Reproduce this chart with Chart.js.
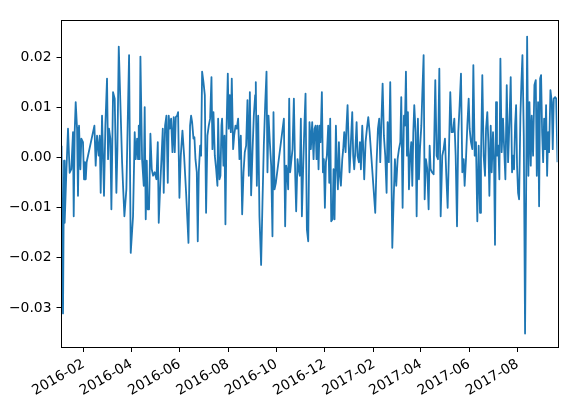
<!DOCTYPE html>
<html><head><meta charset="utf-8">
<script src="https://cdn.jsdelivr.net/npm/chart.js@4/dist/chart.umd.min.js"></script>
<style>html,body{margin:0;padding:0;background:#fff}</style>
</head><body>
<canvas id="c" width="574" height="404"></canvas>
<script>
// Day offsets (calendar days from startDate) of each trading day drawn
const startDate = '2016-01-04';
const tradingDays = [
  0,1.9,3.2,4.0,6.1,8.2,10.3,12.4,14.5,15.4,
  16.6,17.9,19.6,20.8,22.1,23.8,25.0,27.1,28.4,29.5,
  30.6,31.7,41.5,43.1,44.8,46.9,48.2,49.4,51.1,53.6,
  55.3,57.4,58.7,59.9,61.6,62.9,65.0,67.1,69.2,70.5,
  72.2,74.7,76.4,77.6,79.3,81.8,85.2,87.3,90.2,92.3,
  93.6,95.3,96.5,97.4,98.6,99.5,101.6,103.7,104.9,106.2,
  107.5,108.7,110.4,112.1,113.8,115.5,117.6,119.7,121.4,122.6,
  124.3,126.0,127.7,128.9,130.6,132.3,134.0,135.2,136.5,138.2,
  139.9,141.5,142.8,144.1,145.8,147.0,148.7,150.4,152.5,154.6,
  157.1,160.1,162.1,163.4,164.7,166.4,167.6,168.9,170.6,171.8,
  173.1,174.8,176.0,177.3,179.0,180.7,182.3,184.0,185.7,187.4,
  189.1,190.3,191.6,193.3,195.0,196.6,197.5,199.2,200.4,201.7,
  202.5,204.2,205.5,206.7,208.0,209.7,210.9,212.2,213.5,214.7,
  216.4,217.7,219.4,221.0,222.7,224.4,226.1,227.8,229.5,231.1,
  232.8,234.5,236.2,237.5,239.1,240.8,242.5,244.2,245.0,246.3,
  248.0,249.6,251.7,253.4,255.1,256.8,258.5,259.7,261.0,262.7,
  264.4,266.0,267.3,268.6,270.3,280.4,282.0,283.3,284.6,285.8,
  287.1,288.3,289.6,291.3,293.0,294.7,295.9,297.6,298.9,300.5,
  301.8,303.1,304.8,306.4,307.7,309.4,311.1,312.7,314.4,316.1,
  317.8,319.1,320.3,321.6,322.8,324.1,325.4,326.6,328.3,329.6,
  330.8,332.1,333.4,334.6,336.3,337.6,338.8,340.1,341.8,343.0,
  344.3,346.0,347.2,348.5,349.8,351.0,352.3,354.0,355.2,356.5,
  358.2,359.4,360.7,362.0,363.2,364.9,366.6,367.8,369.1,370.4,
  372.1,373.3,375.0,376.3,377.5,379.2,380.5,381.7,383.4,385.1,
  386.8,388.5,395.6,397.3,399.0,400.6,401.9,403.2,404.9,406.5,
  408.2,409.9,411.2,412.8,414.5,415.8,417.1,418.7,420.4,422.1,
  423.8,425.5,427.2,428.4,430.1,431.8,433.0,434.3,435.6,436.8,
  438.1,439.4,441.0,442.3,443.6,444.8,446.5,447.8,449.4,450.7,
  452.0,453.7,454.9,456.6,457.9,459.5,461.2,462.9,464.2,465.4,
  467.1,469.2,471.3,473.0,474.7,476.4,478.1,480.1,481.8,483.5,
  485.2,486.9,488.6,490.2,491.9,493.6,495.3,497.0,498.7,500.3,
  502.0,503.7,505.4,507.1,508.3,510.0,511.7,513.4,514.6,516.3,
  518.0,519.3,521.0,522.6,524.3,526.0,527.7,528.9,530.6,532.3,
  534.0,535.3,536.9,538.2,539.5,541.2,542.4,544.1,545.4,546.6,
  547.9,549.1,550.8,552.1,553.4,555.0,556.7,558.0,559.7,561.4,
  563.1,564.8,566.4,568.1,569.4,570.6,571.9,573.2,574.4,575.7,
  577.0,578.6,579.9,581.2,582.9,584.5,586.2,587.1,588.7,590.0,
  591.7,592.9,594.6,596.3,598.0,599.3,600.9,602.2,603.5,604.7,
  606.0,607.3,608.5,609.8,611.0,612.3,613.6,614.8,616.5,618.2,
  619.4,620.7,622.4,623.7,625.4
];
const dailyReturns = [
  0.0024,-0.0311,-0.0006,-0.0130,-0.0030,0.0058,-0.0030,-0.0023,0.0051,-0.0117,
  0.0051,0.0111,0.0058,-0.0076,0.0064,-0.0023,0.0038,0.0031,-0.0043,-0.0009,
  -0.0043,-0.0009,0.0064,-0.0016,0.0044,0.0004,0.0044,-0.0070,0.0084,-0.0076,
  0.0064,0.0158,-0.0003,0.0058,0.0038,-0.0103,0.0131,0.0118,-0.0070,0.0017,
  0.0222,0.0084,-0.0009,-0.0056,-0.0117,-0.0063,0.0205,-0.0190,-0.0117,0.0051,
  -0.0003,0.0038,-0.0003,0.0064,-0.0003,0.0202,-0.0003,-0.0056,0.0101,-0.0123,
  -0.0006,-0.0103,-0.0103,0.0048,-0.0023,-0.0036,-0.0029,-0.0043,0.0031,-0.0130,
  -0.0063,-0.0003,0.0058,-0.0070,0.0064,0.0084,-0.0050,0.0084,0.0058,0.0078,
  0.0011,0.0081,0.0011,0.0081,0.0084,0.0091,-0.0080,0.0004,0.0054,0.0004,
  -0.0070,-0.0170,0.0064,0.0084,0.0071,0.0038,0.0041,-0.0003,-0.0029,-0.0167,
  -0.0029,0.0024,0.0004,0.0172,0.0151,0.0125,-0.0110,0.0044,0.0064,0.0078,
  0.0161,0.0017,0.0091,0.0004,-0.0023,-0.0056,0.0078,-0.0043,-0.0036,0.0064,
  0.0078,-0.0016,0.0044,-0.0133,0.0051,0.0168,0.0058,0.0125,0.0051,0.0158,
  0.0017,0.0044,0.0064,0.0058,0.0078,-0.0003,0.0044,-0.0113,-0.0029,0.0011,
  0.0024,0.0115,-0.0036,0.0131,-0.0075,0.0011,0.0084,0.0125,0.0151,-0.0056,
  0.0084,-0.0117,-0.0214,-0.0090,0.0024,0.0105,0.0172,-0.0029,0.0084,0.0031,
  -0.0016,-0.0157,0.0091,-0.0063,-0.0050,0.0078,-0.0137,-0.0016,-0.0029,-0.0063,
  0.0118,-0.0029,-0.0009,0.0017,0.0118,-0.0036,-0.0107,-0.0003,-0.0023,-0.0036,
  0.0078,-0.0117,-0.0016,0.0071,0.0128,-0.0143,-0.0167,0.0071,0.0017,0.0071,
  -0.0003,0.0058,0.0064,-0.0003,0.0064,-0.0023,0.0064,0.0031,0.0131,-0.0029,
  -0.0003,-0.0100,-0.0009,0.0004,0.0064,-0.0050,0.0078,-0.0127,-0.0123,-0.0023,
  -0.0123,0.0064,-0.0016,-0.0063,0.0031,-0.0036,-0.0056,-0.0003,0.0017,0.0051,
  0.0011,0.0064,0.0105,0.0031,-0.0029,0.0031,0.0091,0.0004,-0.0023,0.0011,
  0.0071,0.0004,-0.0009,0.0031,-0.0023,0.0064,0.0017,-0.0043,0.0031,0.0058,
  0.0081,0.0051,-0.0110,-0.0009,0.0058,0.0078,-0.0009,0.0064,0.0148,0.0044,
  0.0004,-0.0070,0.0071,-0.0009,0.0151,-0.0003,-0.0180,-0.0090,-0.0003,-0.0056,
  -0.0003,0.0017,0.0031,0.0121,-0.0100,0.0084,0.0064,0.0172,0.0004,0.0091,
  -0.0063,-0.0003,0.0031,-0.0056,0.0051,0.0105,0.0051,-0.0117,0.0078,-0.0043,
  0.0017,0.0064,0.0125,0.0205,-0.0083,-0.0003,-0.0023,-0.0103,0.0024,-0.0023,
  -0.0029,-0.0033,0.0155,0.0004,-0.0003,0.0178,-0.0117,0.0004,0.0017,0.0038,
  -0.0036,-0.0100,0.0017,0.0131,0.0051,0.0051,0.0078,0.0004,-0.0137,0.0051,
  0.0105,0.0168,-0.0029,-0.0003,-0.0056,-0.0003,0.0064,0.0118,0.0058,0.0031,
  0.0017,0.0185,0.0004,0.0031,-0.0127,0.0024,-0.0110,-0.0003,0.0165,0.0004,
  -0.0036,0.0058,0.0091,0.0031,-0.0076,0.0064,-0.0029,0.0051,-0.0009,-0.0174,
  0.0111,0.0004,0.0024,-0.0043,0.0198,0.0011,0.0078,0.0024,-0.0043,0.0145,
  -0.0009,0.0071,0.0161,-0.0029,0.0004,-0.0023,0.0064,0.0105,-0.0016,-0.0070,
  -0.0083,0.0084,0.0151,0.0205,0.0044,-0.0351,0.0004,0.0242,-0.0036,0.0111,
  -0.0016,0.0084,0.0004,0.0145,0.0155,-0.0036,0.0111,-0.0097,0.0158,0.0165,
  0.0051,-0.0009,0.0078,0.0017,0.0105,-0.0036,0.0051,0.0011,0.0135,0.0111,
  0.0017,0.0118,0.0121,0.0118,-0.0009
];
const xTickMonths = ['2016-02','2016-04','2016-06','2016-08','2016-10','2016-12','2017-02','2017-04','2017-06','2017-08'];
const yTickValues = [-0.03,-0.02,-0.01,0.00,0.01,0.02];
const yRange = [-0.0378, 0.0275];

const DAY = 86400000;
const t0 = Date.parse(startDate + 'T00:00:00Z');
const monthOffset = m => (Date.parse(m + '-01T00:00:00Z') - t0) / DAY;
const points = tradingDays.map((d, i) => ({x: d, y: dailyReturns[i]}));
const font = {family: 'DejaVu Sans', size: 13.9};

const frame = {
  id: 'frame',
  afterDraw(c) {
    const a = c.chartArea, ctx = c.ctx;
    ctx.save();
    ctx.strokeStyle = '#000';
    ctx.lineWidth = 1;
    ctx.strokeRect(Math.round(a.left) - 0.5, Math.round(a.top) + 0.5,
                   Math.round(a.right - a.left) + 1, Math.round(a.bottom - a.top));
    ctx.restore();
  }
};

new Chart(document.getElementById('c'), {
  type: 'line',
  data: {datasets: [{data: points, borderColor: '#1f77b4', borderWidth: 1.8,
    pointRadius: 0, tension: 0, fill: false, borderJoinStyle: 'round'}]},
  options: {
    responsive: false, animation: false, events: [],
    plugins: {legend: {display: false}, tooltip: {enabled: false}},
    layout: {padding: {top: 20, right: 16.5, left: 0, bottom: 0}},
    scales: {
      x: {
        type: 'linear',
        min: tradingDays[0], max: tradingDays[tradingDays.length - 1],
        afterBuildTicks: s => { s.ticks = xTickMonths.map(m => ({value: monthOffset(m)})); },
        afterFit: s => { s.height = 57; },
        ticks: {autoSkip: false, maxRotation: 30, minRotation: 30, color: '#000', font, padding: 4,
          callback: (v, i) => xTickMonths[i]},
        grid: {drawOnChartArea: false, drawTicks: true, tickLength: 5, color: '#000', tickWidth: 1},
        border: {display: true, color: '#000', width: 1}
      },
      y: {
        min: yRange[0], max: yRange[1],
        afterBuildTicks: s => { s.ticks = yTickValues.map(v => ({value: v})); },
        afterFit: s => { s.width = 61.5; },
        ticks: {color: '#000', font, padding: 5,
          callback: v => (v < -1e-9 ? '\u2212' : '') + Math.abs(v).toFixed(2)},
        grid: {drawOnChartArea: false, drawTicks: true, tickLength: 5, color: '#000', tickWidth: 1},
        border: {display: true, color: '#000', width: 1}
      }
    }
  },
  plugins: [frame]
});
</script>
</body></html>
